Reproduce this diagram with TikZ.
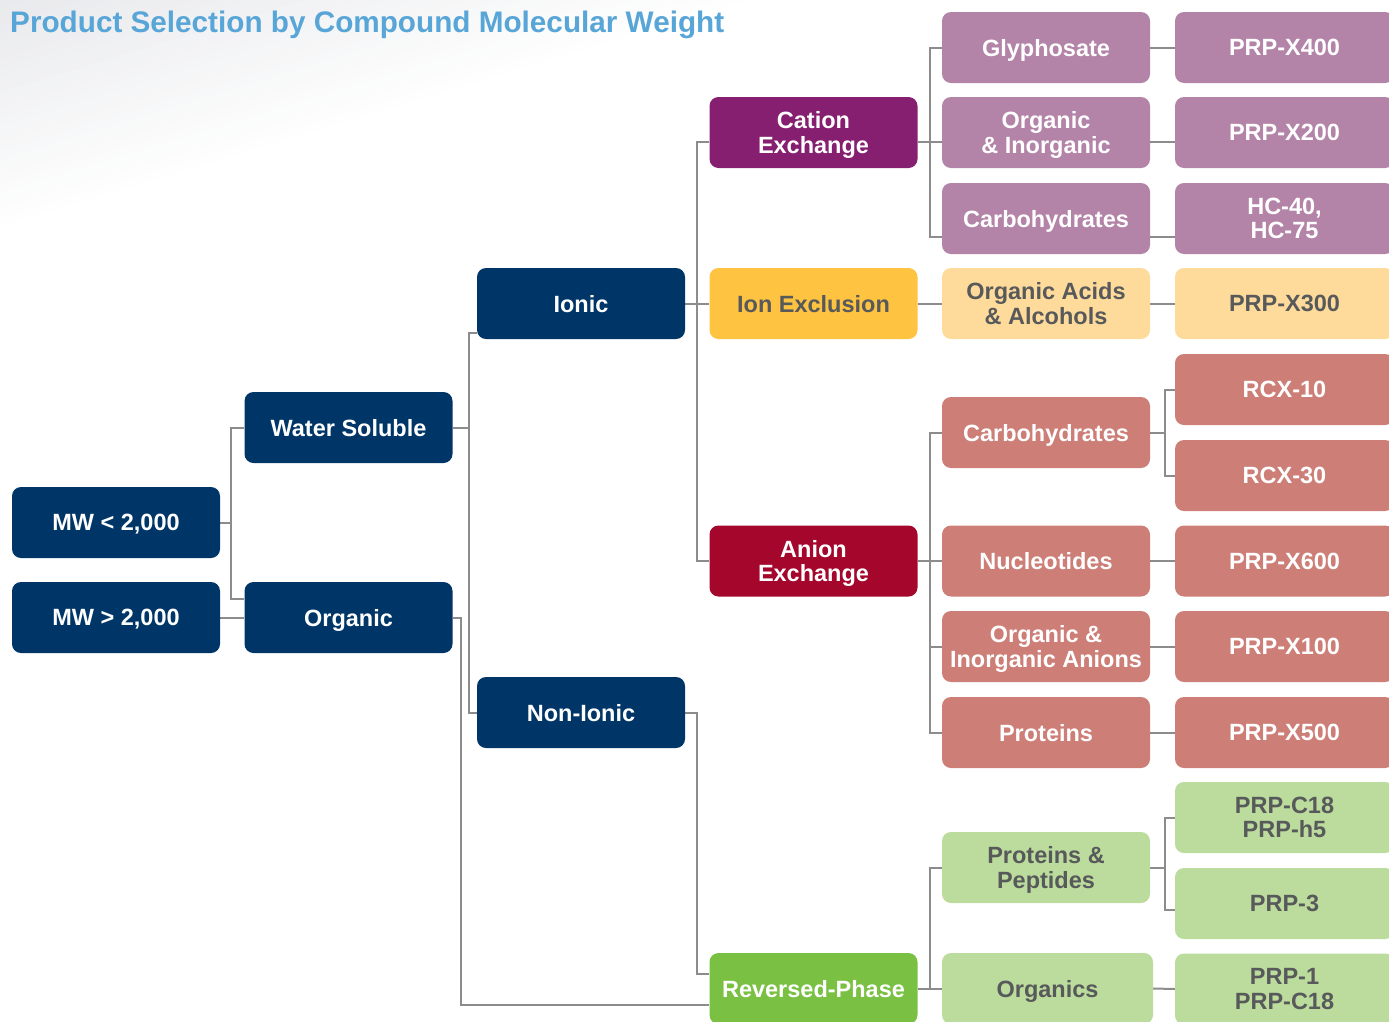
\documentclass[tikz,border=0pt]{standalone}
\usepackage{fontspec}
\setmainfont{Liberation Sans}
\usetikzlibrary{calc}
\definecolor{navy}{RGB}{0,54,103}
\definecolor{catpurple}{RGB}{134,31,112}
\definecolor{lpurple}{RGB}{179,132,168}
\definecolor{ieyellow}{RGB}{254,195,65}
\definecolor{lyellow}{RGB}{254,219,154}
\definecolor{anred}{RGB}{164,6,44}
\definecolor{salmon}{RGB}{205,126,119}
\definecolor{rpgreen}{RGB}{122,193,67}
\definecolor{lgreen}{RGB}{187,220,156}
\definecolor{darktext}{RGB}{88,89,91}
\definecolor{titleblue}{RGB}{88,165,216}
\definecolor{linegrey}{RGB}{140,140,140}
\definecolor{bggrey}{RGB}{232,233,236}
\pgfdeclarelayer{bg}
\pgfsetlayers{bg,main}
\tikzset{
  box/.style={rounded corners=9pt, minimum height=71pt, minimum width=208pt, inner sep=0pt,
    text depth=0pt, align=center, font=\fontsize{23.5}{24.5}\selectfont\bfseries, text=white},
  widebox/.style={minimum width=219pt},
  navybox/.style={fill=navy},
  catbox/.style={fill=catpurple},
  lpbox/.style={fill=lpurple},
  iebox/.style={fill=ieyellow, text=darktext},
  lybox/.style={fill=lyellow, text=darktext},
  anbox/.style={fill=anred},
  sabox/.style={fill=salmon},
  rpbox/.style={fill=rpgreen},
  lgbox/.style={fill=lgreen, text=darktext},
  conn/.style={draw=linegrey, line width=2pt},
}
\begin{document}
\begin{tikzpicture}[x=1pt,y=-1pt]
\useasboundingbox (0,0) rectangle (1389,1021);
% title
\node[anchor=base west, inner sep=0pt, font=\fontsize{29.7}{31}\selectfont\bfseries, text=titleblue] (title) at (10,32) {Product Selection by Compound Molecular Weight};
% column 1-2
\node[box,navybox] (mwl) at (116,522.5) {MW < 2,000};
\node[box,navybox] (mwg) at (116,617.5) {MW > 2,000};
\node[box,navybox] (ws) at (348.5,427.5) {Water Soluble};
\node[box,navybox] (org) at (348.5,617.5) {Organic};
% column 3
\node[box,navybox] (ionic) at (581,303.5) {Ionic};
\node[box,navybox] (nonionic) at (581,712.5) {Non-Ionic};
% column 4
\node[box,catbox] (cat) at (813.5,132.5) {Cation\\Exchange};
\node[box,iebox] (ionex) at (813.5,303.5) {Ion Exclusion};
\node[box,anbox] (anion) at (813.5,561) {Anion\\Exchange};
\node[box,rpbox] (rp) at (813.5,988.5) {Reversed-Phase};
% column 5
\node[box,lpbox] (gly) at (1046,47.5) {Glyphosate};
\node[box,lpbox] (oi) at (1046,132.5) {Organic\\\& Inorganic};
\node[box,lpbox] (pcarb) at (1046,218.5) {Carbohydrates};
\node[box,lybox] (oa) at (1046,303.5) {Organic Acids\\\& Alcohols};
\node[box,sabox] (rcarb) at (1046,432.5) {Carbohydrates};
\node[box,sabox] (nuc) at (1046,561) {Nucleotides};
\node[box,sabox] (oia) at (1046,646.5) {Organic \&\\Inorganic Anions};
\node[box,sabox] (prot) at (1046,732.5) {Proteins};
\node[box,lgbox] (pp) at (1046,867.5) {Proteins \&\\Peptides};
\node[box,lgbox,minimum width=211pt] (orgs) at (1047.5,988.5) {Organics};
% column 6
\node[box,widebox,lpbox] (x400) at (1284.5,47.5) {PRP-X400};
\node[box,widebox,lpbox] (x200) at (1284.5,132.5) {PRP-X200};
\node[box,widebox,lpbox] (hc) at (1284.5,218.5) {HC-40,\\HC-75};
\node[box,widebox,lybox] (x300) at (1284.5,303.5) {PRP-X300};
\node[box,widebox,sabox] (rcx10) at (1284.5,389.5) {RCX-10};
\node[box,widebox,sabox] (rcx30) at (1284.5,475.5) {RCX-30};
\node[box,widebox,sabox] (x600) at (1284.5,561) {PRP-X600};
\node[box,widebox,sabox] (x100) at (1284.5,646.5) {PRP-X100};
\node[box,widebox,sabox] (x500) at (1284.5,732.5) {PRP-X500};
\node[box,widebox,lgbox] (c18) at (1284.5,817.5) {PRP-C18\\PRP-h5};
\node[box,widebox,lgbox] (prp3) at (1284.5,903.5) {PRP-3};
\node[box,widebox,lgbox] (prp1) at (1284.5,989) {PRP-1\\PRP-C18};

\begin{pgfonlayer}{bg}
% background gradient
\foreach \t in {224,216,...,8} {
  \pgfmathtruncatemacro\p{100*(1-\t/228)}
  \fill[bggrey!\p!white] (0,0) -- (\t/0.29,0) -- (0,\t/0.957) -- cycle;
}
% connectors
\draw[conn] (ws.west) -- ++(-13,0) |- ([yshift=19pt]org.west);
\draw[conn] (mwl.east) -- ++(12,0);
\draw[conn] (mwg.east) -- (org.west);
\draw[conn] ([yshift=-29.5pt]ionic.west) -- ++(-8,0) |- (nonionic.west);
\draw[conn] (ws.east) -- ++(17,0);
\draw[conn] (org.east) -- ++(8,0) |- ([yshift=-16pt]rp.west);
\draw[conn] ([yshift=-9.5pt]cat.west) -- ++(-12.5,0) |- (anion.west);
\draw[conn] (ionic.east) -- (ionex.west);
\draw[conn] (nonionic.east) -- ++(12,0) |- ([yshift=14.5pt]rp.west);
\draw[conn] (gly.west) -- ++(-12,0) |- ([yshift=-18.5pt]pcarb.west);
\draw[conn] ([yshift=-9.5pt]cat.east) -- ([yshift=-9.5pt]oi.west);
\draw[conn] (gly.east) -- (x400.west);
\draw[conn] ([yshift=-9.5pt]oi.east) -- ([yshift=-9.5pt]x200.west);
\draw[conn] ([yshift=-18.5pt]pcarb.east) -- ([yshift=-18.5pt]hc.west);
\draw[conn] (ionex.east) -- (oa.west);
\draw[conn] (oa.east) -- (x300.west);
\draw[conn] (rcarb.west) -- ++(-12,0) |- (prot.west);
\draw[conn] (anion.east) -- (nuc.west);
\draw[conn] (oia.west) -- ++(-12,0);
\draw[conn] (rcarb.east) -- ++(15,0);
\draw[conn] (rcx10.west) -- ++(-10,0) |- (rcx30.west);
\draw[conn] (nuc.east) -- (x600.west);
\draw[conn] (oia.east) -- (x100.west);
\draw[conn] (prot.east) -- (x500.west);
\draw[conn] (pp.west) -- ++(-12,0) |- (orgs.west);
\draw[conn] (rp.east) -- (orgs.west);
\draw[conn] (pp.east) -- ++(15,0);
\draw[conn] (c18.west) -- ++(-10,0) |- ([yshift=-6.5pt]prp3.west);
\draw[conn] (orgs.east) -- (prp1.west);
\end{pgfonlayer}
\end{tikzpicture}
\end{document}
